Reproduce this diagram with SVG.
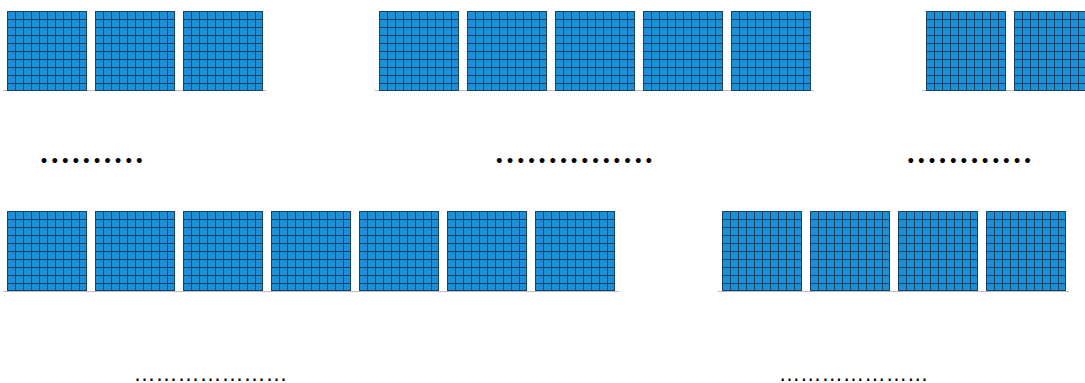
<svg xmlns="http://www.w3.org/2000/svg" xmlns:xlink="http://www.w3.org/1999/xlink" width="1085" height="383" viewBox="0 0 1085 383">
<style>
.base{stroke:#b9bcc0;stroke-width:1.2;fill:none}
.dots{font-family:Lato,"Open Sans",sans-serif;font-weight:bold;font-size:32px;fill:#000}
.ell{font-family:"Liberation Sans",Arial,sans-serif;fill:#000}
.gl{stroke:#1c3f66;stroke-width:1;fill:none}
</style>
<defs>
<symbol id="panel" overflow="visible">
<rect x="0" y="0" width="80" height="80" fill="#1a90d6"/>
<path class="gl" d="M0.5 0V80M8.5 0V80M16.5 0V80M24.5 0V80M32.5 0V80M40.5 0V80M48.5 0V80M56.5 0V80M64.5 0V80M72.5 0V80M79.5 0V80M0 0.5H80M0 8.5H80M0 16.5H80M0 24.5H80M0 32.5H80M0 40.5H80M0 48.5H80M0 56.5H80M0 64.5H80M0 72.5H80M0 79.5H80"/>
</symbol>
</defs>
<rect width="1085" height="383" fill="#fff"/>
<g id="baselines">
<path class="base" d="M3 90.5H266M375 90.5H814M922 90.5H1085M3 291.5H619M718 291.5H1069"/>
</g>
<g id="row1-group1">
<g id="p1-1"><use xlink:href="#panel" x="7" y="11"/></g>
<g id="p1-2"><use xlink:href="#panel" x="95" y="11"/></g>
<g id="p1-3"><use xlink:href="#panel" x="183" y="11"/></g>
</g>
<g id="row1-group2">
<g id="p1-4"><use xlink:href="#panel" x="379" y="11"/></g>
<g id="p1-5"><use xlink:href="#panel" x="467" y="11"/></g>
<g id="p1-6"><use xlink:href="#panel" x="555" y="11"/></g>
<g id="p1-7"><use xlink:href="#panel" x="643" y="11"/></g>
<g id="p1-8"><use xlink:href="#panel" x="731" y="11"/></g>
</g>
<g id="row1-group3">
<g id="p1-9"><use xlink:href="#panel" x="926" y="11"/></g>
<g id="p1-10"><use xlink:href="#panel" x="1014" y="11"/></g>
</g>
<g id="row2-group1">
<g id="p2-1"><use xlink:href="#panel" x="7" y="211"/></g>
<g id="p2-2"><use xlink:href="#panel" x="95" y="211"/></g>
<g id="p2-3"><use xlink:href="#panel" x="183" y="211"/></g>
<g id="p2-4"><use xlink:href="#panel" x="271" y="211"/></g>
<g id="p2-5"><use xlink:href="#panel" x="359" y="211"/></g>
<g id="p2-6"><use xlink:href="#panel" x="447" y="211"/></g>
<g id="p2-7"><use xlink:href="#panel" x="535" y="211"/></g>
</g>
<g id="row2-group2">
<g id="p2-8"><use xlink:href="#panel" x="722" y="211"/></g>
<g id="p2-9"><use xlink:href="#panel" x="810" y="211"/></g>
<g id="p2-10"><use xlink:href="#panel" x="898" y="211"/></g>
<g id="p2-11"><use xlink:href="#panel" x="986" y="211"/></g>
</g>
<g id="labels">
<text class="dots" x="40.3" y="163" textLength="102.8" lengthAdjust="spacing">..........</text>
<text class="dots" x="495.6" y="163" textLength="157.1" lengthAdjust="spacing">...............</text>
<text class="dots" x="907" y="163" textLength="124.4" lengthAdjust="spacing">............</text>
<text class="ell" x="133.6" y="381" font-size="22">…………………</text>
<text class="ell" x="778.7" y="381" font-size="21.4">…………………</text>
</g>
</svg>
